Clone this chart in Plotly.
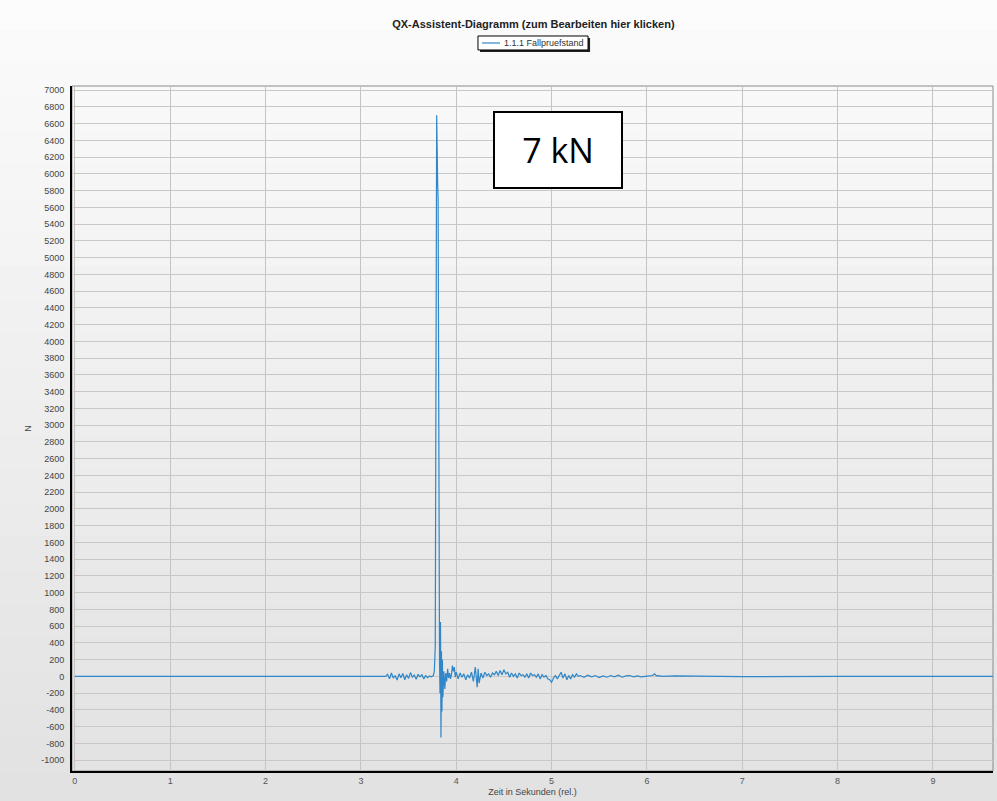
import plotly.graph_objects as go

# Fallpruefstand force signal (N) over relative time (s)
zeit = [0.0, 1.5, 3.25,
        3.26, 3.28, 3.30, 3.32, 3.34, 3.36, 3.38, 3.40, 3.42, 3.44, 3.46, 3.48, 3.50,
        3.52, 3.54, 3.56, 3.58, 3.60, 3.62, 3.64, 3.66, 3.68, 3.70, 3.72, 3.74, 3.76,
        3.77, 3.78, 3.785, 3.79, 3.795, 3.80, 3.805, 3.81, 3.815, 3.82, 3.825, 3.83,
        3.835, 3.84, 3.845, 3.85, 3.855, 3.86, 3.87, 3.88, 3.89, 3.90, 3.91, 3.92,
        3.93, 3.94, 3.95, 3.96, 3.97, 3.98, 3.99, 4.00, 4.02, 4.04, 4.06, 4.08, 4.10,
        4.12, 4.14, 4.16, 4.18, 4.20, 4.22, 4.23, 4.24, 4.26, 4.28, 4.30, 4.32, 4.34,
        4.36, 4.38, 4.40, 4.42, 4.44, 4.46, 4.48, 4.50, 4.52, 4.54, 4.56, 4.58, 4.60,
        4.62, 4.64, 4.66, 4.68, 4.70, 4.72, 4.74, 4.76, 4.78, 4.80, 4.82, 4.84, 4.86,
        4.88, 4.90, 4.92, 4.94, 4.96, 4.98, 5.00, 5.02, 5.04, 5.06, 5.08, 5.10, 5.12,
        5.14, 5.16, 5.18, 5.20, 5.22, 5.24, 5.26, 5.28, 5.30, 5.34, 5.38, 5.42, 5.46,
        5.50, 5.54, 5.58, 5.62, 5.66, 5.70, 5.74, 5.78, 5.82, 5.86, 5.90, 5.94, 5.98,
        6.02, 6.06, 6.08, 6.10, 6.12, 6.16, 6.30, 7.00, 8.00, 9.00, 9.63]
kraft = [0, 0, 0,
         0, 25, -30, 40, -20, 10, -45, 30, -15, 35, -40, 20, -25,
         45, -10, 15, -35, 25, -5, 20, -30, 10, -15, 5, -5, 10,
         60, 350, 2200, 5200, 6700, 6300, 5900, 5700, 3800, 900, 150, -200,
         650, -730, 300, -420, 200, -250, 60, -150, 40, -60, 90, -20,
         40, -30, 20, 130, 60, 110, -10, 50, -30, 40, -10, 30, -40,
         20, -20, 50, -60, 110, -130, 90, -80, 40, -20, 50, 10, 30,
         -10, 40, 20, 60, 10, 70, 20, 80, 30, 50, -10, 40, 0,
         30, -20, 40, 10, 20, -10, 30, -20, 40, 10, 20, -10, 30,
         -30, 20, -10, 10, -30, -40, -70, -20, 10, -30, 20, 50, -20,
         30, -40, 10, -30, 20, -10, 30, 0, 10, -10, 15, -5, 10,
         -15, 5, -10, 10, -5, 15, -10, 5, 10, -5, 5, -5, 0,
         5, 10, 30, 5, 10, 0, 5, -3, 0, -2, 0]

series_name = "1.1.1 Fallpruefstand"
y_ticks = list(range(-1000, 7001, 200))
x_ticks = list(range(0, 10))

LINE_BLUE = "#2f86c8"
fig = go.Figure()

# soft vertical gradient behind the whole chart
n_bands = 24
for i in range(n_bands):
    g = int(252 - (252 - 226) * i / (n_bands - 1))
    fig.add_shape(type="rect", xref="paper", yref="paper",
                  x0=-0.08, x1=1.01,
                  y0=1.13 - (i + 1) * (1.18 / n_bands), y1=1.13 - i * (1.18 / n_bands),
                  fillcolor=f"rgb({g},{g},{g})", line_width=0, layer="below")

# thin grey frame (top/right), black axis lines drawn by the axes
fig.add_shape(type="rect", xref="paper", yref="paper", x0=0, x1=1, y0=0, y1=1,
              line=dict(color="#8a8a8a", width=1), fillcolor="rgba(0,0,0,0)", layer="below")

fig.add_trace(go.Scatter(
    x=zeit, y=kraft, mode="lines", name=series_name, showlegend=False,
    line=dict(color=LINE_BLUE, width=1.2),
))

# compact legend box: shadow, white framed box, line sample and label
fig.add_shape(type="rect", xref="paper", yref="paper",
              x0=0.443, x1=0.5625, y0=1.0497, y1=1.070,
              fillcolor="#222", line_width=0)
fig.add_shape(type="rect", xref="paper", yref="paper",
              x0=0.4408, x1=0.5603, y0=1.0526, y1=1.073,
              fillcolor="white", line=dict(color="black", width=1))
fig.add_shape(type="line", xref="paper", yref="paper",
              x0=0.4452, x1=0.4647, y0=1.0628, y1=1.0628,
              line=dict(color=LINE_BLUE, width=1.2))
fig.add_annotation(
    x=0.4669, y=1.0628, xref="paper", yref="paper", text=series_name,
    showarrow=False, xanchor="left", yanchor="middle",
    font=dict(family="Liberation Sans, Arial", size=9, color="#333"),
)

fig.add_annotation(
    x=5.07, y=6280, xref="x", yref="y", text="7 kN", showarrow=False,
    font=dict(family="Open Sans, Liberation Sans", size=34, color="black"),
    bgcolor="white", bordercolor="black", borderwidth=2,
    width=124, height=72,
)

fig.update_layout(
    width=997, height=801,
    margin=dict(l=72, r=4, t=86, b=30),
    paper_bgcolor="#eeeeee",
    plot_bgcolor="rgba(0,0,0,0)",
    title=dict(text="<b>QX-Assistent-Diagramm (zum Bearbeiten hier klicken)</b>",
               x=0.535, xanchor="center", y=0.970, yanchor="middle",
               font=dict(family="Liberation Sans, Arial", size=11, color="#222")),
    showlegend=False,
    font=dict(family="Liberation Sans, Arial", size=9, color="#444"),
)

fig.update_xaxes(
    range=[-0.03, 9.63], tickvals=x_ticks, ticktext=[str(v) for v in x_ticks],
    showgrid=True, gridcolor="#c4c4c4", gridwidth=1, zeroline=False,
    showline=True, linecolor="black", linewidth=2, ticks="",
    title=dict(text="Zeit in Sekunden (rel.)", standoff=4,
               font=dict(family="Liberation Sans, Arial", size=9, color="#444")),
    tickfont=dict(size=9, color="#555"),
)
fig.update_yaxes(
    range=[-1130, 7050], tickvals=y_ticks, ticktext=[str(v) for v in y_ticks],
    showgrid=True, gridcolor="#c8c8c8", gridwidth=1, zeroline=False,
    showline=True, linecolor="black", linewidth=2, ticks="",
    ticklabelstandoff=4,
    title=dict(text="N", standoff=8,
               font=dict(family="Liberation Sans, Arial", size=9, color="#444")),
    tickfont=dict(size=9, color="#444"),
)

fig.write_html("out.html")
